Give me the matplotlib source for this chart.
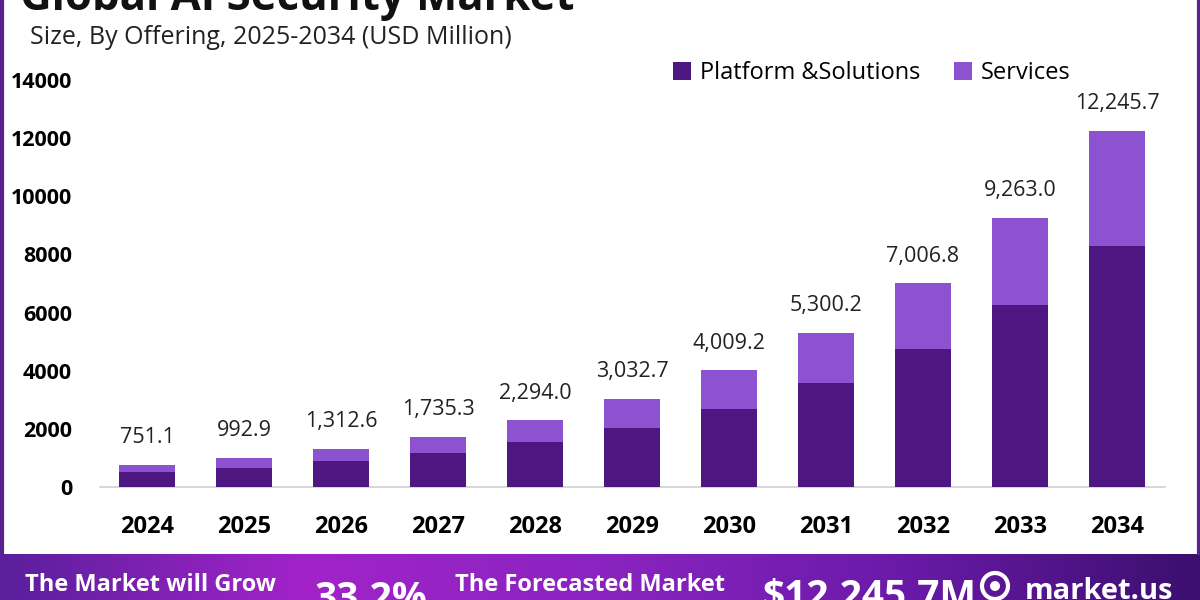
import matplotlib
matplotlib.use("Agg")
import matplotlib.pyplot as plt
import numpy as np
from matplotlib.colors import LinearSegmentedColormap
from matplotlib.patches import Circle

years = ["2024", "2025", "2026", "2027", "2028", "2029", "2030", "2031", "2032", "2033", "2034"]
totals = [751.1, 992.9, 1312.6, 1735.3, 2294.0, 3032.7, 4009.2, 5300.2, 7006.8, 9263.0, 12245.7]
platform = [505, 670, 886, 1170, 1549, 2045, 2699, 3570, 4740, 6265, 8296]
services = [246, 323, 427, 565, 745, 988, 1310, 1730, 2267, 2998, 3950]
yticks = [0, 2000, 4000, 6000, 8000, 10000, 12000, 14000]

FONT = ["Open Sans", "DejaVu Sans"]
plt.rcParams["font.family"] = FONT

dark = "#4e1681"
light = "#8c52cf"

fig = plt.figure(figsize=(12, 6), dpi=100)
fig.patch.set_facecolor("white")

ax = fig.add_axes([100/1200, 1-487/600, 1065/1200, (487-80)/600])
x = np.arange(len(years))
ax.bar(x, platform, width=0.57, color=dark, label="Platform &Solutions", zorder=3)
ax.bar(x, services, width=0.57, bottom=platform, color=light, label="Services", zorder=3)
for xi, t in zip(x, totals):
    ax.annotate(f"{t:,.1f}", (xi, t), xytext=(0, 12), textcoords="offset points",
                ha="center", va="bottom", fontsize=15.5, color="#222222")
ax.set_xlim(-0.485, 10.495)
ax.set_ylim(0, 14000)
ax.set_yticks(yticks)
ax.set_yticklabels([str(v) for v in yticks], fontsize=15.5, fontweight="bold")
ax.set_xticks(x)
ax.set_xticklabels(years, fontsize=17, fontweight="bold")
ax.tick_params(axis="both", length=0)
ax.tick_params(axis="y", pad=20)
ax.tick_params(axis="x", pad=20)
for s in ["top", "right", "left"]:
    ax.spines[s].set_visible(False)
ax.spines["bottom"].set_color("#d0d0d0")
ax.spines["bottom"].set_linewidth(1.2)

leg = ax.legend(loc="upper left", bbox_to_anchor=(652/1200, 1-40/600), bbox_transform=fig.transFigure,
                ncol=2, frameon=False, fontsize=17, handlelength=0.75, handleheight=0.75,
                handletextpad=0.4, columnspacing=1.4)

# title (cut off at top) and subtitle
fig.text(20/1200, 1-10/600, "Global AI Security Market", fontsize=31.5, fontweight="bold",
         ha="left", va="baseline", color="#111111")
fig.text(30/1200, 1-38/600, "Size, By Offering, 2025-2034 (USD Million)", fontsize=18,
         ha="left", va="center", color="#222222")

# side borders
fig.add_artist(plt.Line2D([1.5/1200, 1.5/1200], [47/600, 1], transform=fig.transFigure, color="#5a2190", lw=3))
fig.add_artist(plt.Line2D([1198.5/1200, 1198.5/1200], [47/600, 1], transform=fig.transFigure, color="#5a2190", lw=3))

# bottom banner gradient
bax = fig.add_axes([0, 0, 1, 46/600])
cmap = LinearSegmentedColormap.from_list("g", ["#5a1f9c", "#a223c9", "#8a24c0", "#6a1aa8", "#3b0f6e"])
grad = np.linspace(0, 1, 256).reshape(1, -1)
bax.imshow(grad, aspect="auto", cmap=cmap, extent=[0, 1200, 0, 46])
bax.set_xlim(0, 1200); bax.set_ylim(0, 46)
bax.axis("off")
bax.add_patch(Circle((995, 14), 13, fill=False, ec="white", lw=3))
bax.add_patch(Circle((995, 14), 5, fill=True, fc="white", ec="none"))
fig.text(25/1200, 1-573/600, "The Market will Grow", fontsize=17, fontweight="bold", color="white",
         ha="left", va="top")
fig.text(315/1200, 1-580/600, "33.2%", fontsize=28, fontweight="bold", color="white", ha="left", va="top")
fig.text(455/1200, 1-573/600, "The Forecasted Market", fontsize=17, fontweight="bold", color="white",
         ha="left", va="top")
fig.text(762/1200, 1-578/600, "$12,245.7M", fontsize=28, fontweight="bold", color="white", ha="left", va="top")
fig.text(1025/1200, 1-577/600, "market.us", fontsize=21, fontweight="bold", color="white", ha="left", va="top")

fig.savefig("out.png", dpi=100, facecolor="white")
